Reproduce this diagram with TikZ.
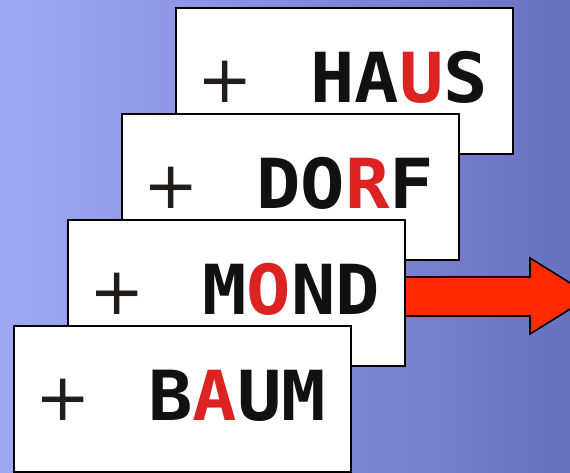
\documentclass[tikz,border=0pt]{standalone}
\usepackage{fontspec}
\newfontfamily\wordfont[FakeStretch=1.07]{DejaVu Sans Mono Bold}
\newfontfamily\plusfont{DejaVu Sans}
\definecolor{bgl}{HTML}{A0A8F6}
\definecolor{bgr}{HTML}{6A70C0}
\definecolor{wred}{HTML}{DD2222}
\definecolor{wblack}{HTML}{111111}
\definecolor{pluscol}{HTML}{221C1A}
\definecolor{arrowred}{HTML}{FF2A00}
\tikzset{
  card/.style={draw=black, line width=1.6pt, fill=white, rectangle, anchor=north west,
    minimum width=337pt, minimum height=146pt, inner sep=0pt},
  plussign/.style={anchor=base, inner sep=0pt, text=pluscol, font=\plusfont\fontsize{66}{70}\selectfont},
  wordtext/.style={anchor=base west, inner sep=0pt, text=wblack, font=\wordfont\fontsize{69}{70}\selectfont},
}
\begin{document}
\begin{tikzpicture}[x=1pt,y=-1pt]
\useasboundingbox (0,0) rectangle (570,472);
\clip (0,0) rectangle (570,472);
\shade[left color=bgl, right color=bgr] (0,0) rectangle (570,472);
% arrow
\coordinate (tip) at (591,296);
\draw[line width=1.6pt, fill=arrowred, line join=miter]
  (398,277) -- (530,277) -- (530,258) -- (tip) -- (530,334) -- (530,316) -- (398,316) -- cycle;
% cards
\foreach \nm/\L/\T/\myword in {haus/175/7/{HA\textcolor{wred}{U}S},
                           dorf/121/113/{DO\textcolor{wred}{R}F},
                           mond/67/219/{M\textcolor{wred}{O}ND},
                           baum/13/325/{B\textcolor{wred}{A}UM}} {
  \node[card] (\nm) at (\L,\T) {};
  \node[plussign] (\nm plus) at (\L+50,\T+95) {+};
  \node[wordtext] (\nm word) at (\L+135,\T+95) {\myword};
}
\end{tikzpicture}
\end{document}
